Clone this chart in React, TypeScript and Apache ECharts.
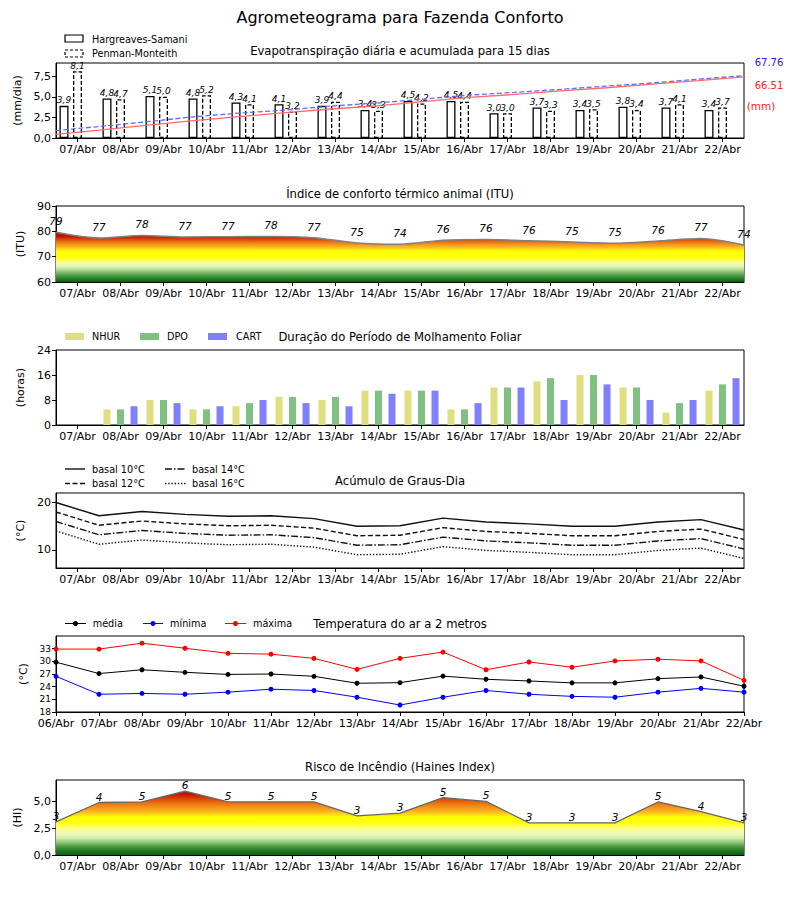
import React, { useEffect, useRef } from "react";
import * as echarts from "echarts";

// ---------- DATA ----------
const diasEixo = ["07/Abr","08/Abr","09/Abr","10/Abr","11/Abr","12/Abr","13/Abr","14/Abr","15/Abr","16/Abr","17/Abr","18/Abr","19/Abr","20/Abr","21/Abr","22/Abr"];
const diasTemp = ["06/Abr","07/Abr","08/Abr","09/Abr","10/Abr","11/Abr","12/Abr","13/Abr","14/Abr","15/Abr","16/Abr","17/Abr","18/Abr","19/Abr","20/Abr","21/Abr","22/Abr"];

const etHargreaves = [3.9,4.8,5.1,4.8,4.3,4.1,3.9,3.4,4.5,4.5,3.0,3.7,3.4,3.8,3.7,3.4];
const etPenman = [8.1,4.7,5.0,5.2,4.1,3.2,4.4,3.3,4.2,4.4,3.0,3.3,3.5,3.4,4.1,3.7];
const etHargreavesAcum = [3.9,8.8,14.0,18.9,23.3,27.5,31.5,35.0,39.6,44.2,47.3,51.1,54.6,58.5,62.3,66.51];
const etPenmanAcum = [8.1,12.8,17.8,23.0,27.1,30.3,34.7,38.0,42.2,46.6,49.6,52.9,56.4,59.8,63.9,67.76];
const totalHargreaves = "66.51";
const totalPenman = "67.76";

const itu = [79.6,77.4,78.4,77.8,77.9,78.0,77.5,75.4,74.9,76.5,76.8,76.3,75.8,75.3,76.2,77.2,74.6];
const ituRotulos = [79,77,78,77,77,78,77,75,74,76,76,76,75,75,76,77,74];

const nhur = [0,5,8,5,6,9,8,11,11,5,12,14,16,12,4,11];
const dpo = [0,5,8,5,7,9,9,11,11,5,12,15,16,12,7,13];
const cart = [0,6,7,6,8,7,6,10,11,7,12,8,13,8,8,15];

const gd10 = [20.0,17.2,18.1,17.5,17.1,17.2,16.6,15.0,15.1,16.7,15.9,15.5,15.0,15.0,15.9,16.4,14.2];
const gd12 = [18.0,15.2,16.1,15.5,15.1,15.2,14.6,13.0,13.1,14.7,13.9,13.5,13.0,13.0,13.9,14.4,12.2];
const gd14 = [16.0,13.2,14.1,13.5,13.1,13.2,12.6,11.0,11.1,12.7,11.9,11.5,11.0,11.0,11.9,12.4,10.2];
const gd16 = [14.0,11.2,12.1,11.5,11.1,11.2,10.6,9.0,9.1,10.7,9.9,9.5,9.0,9.0,9.9,10.4,8.2];

const tMedia = [29.8,27.1,28.0,27.4,26.9,27.0,26.45,24.8,24.95,26.5,25.75,25.35,24.9,24.9,25.9,26.3,24.1];
const tMinima = [26.45,22.2,22.4,22.2,22.7,23.4,23.1,21.5,19.65,21.5,23.1,22.2,21.7,21.5,22.7,23.6,22.7];
const tMaxima = [32.9,32.9,34.3,33.1,31.9,31.7,30.7,28.1,30.7,32.2,28.0,29.85,28.6,30.1,30.5,30.1,25.5];

const haines = [3.1,4.9,4.95,5.95,4.95,4.95,4.95,3.65,3.9,5.35,5.0,3.0,3.0,3.0,4.95,4.05,3.0];
const hainesRotulos = [3,4,5,6,5,5,5,3,3,5,5,3,3,3,5,4,3];

// ---------- STYLE CONSTANTS ----------
const FONT = "DejaVu Sans";
const L = 56;
const R = 56;
const grids = [
  { top: 63, height: 75 },
  { top: 206, height: 76 },
  { top: 350, height: 75 },
  { top: 493, height: 75 },
  { top: 636, height: 76 },
  { top: 780, height: 75 },
];

const ituStops: [number, string][] = [
  [60, "#0d5e0d"], [61, "#1f7a1f"], [62.5, "#4a9a45"], [64, "#8cc474"], [65.3, "#c4e8a4"],
  [66.5, "#e8f8b8"], [67.5, "#f6fca0"], [68.7, "#ffff50"], [69.5, "#ffff10"], [72.2, "#ffff00"],
  [73, "#ffd818"], [74, "#fbb020"], [75, "#f39018"], [76, "#e86c10"], [77, "#d84008"],
  [78, "#c41000"], [90, "#c00000"],
];
const hainesStops: [number, string][] = [
  [0, "#0d5e0d"], [0.4, "#1f7a1f"], [0.8, "#4a9a45"], [1.15, "#8cc474"], [1.5, "#c4e8a4"],
  [1.9, "#e8f8b8"], [2.3, "#f6fca0"], [2.7, "#ffff50"], [3.0, "#ffff10"], [3.5, "#ffff00"],
  [3.8, "#ffd818"], [4.1, "#fbb020"], [4.5, "#f39018"], [4.9, "#e86c10"], [5.3, "#d84008"],
  [5.7, "#c41000"], [7, "#c00000"],
];

function grad(gi: number, vmin: number, vmax: number, stops: [number, string][]) {
  const g = grids[gi];
  const yb = g.top + g.height;
  const yt = g.top;
  return new echarts.graphic.LinearGradient(
    0, yb, 0, yt,
    stops.map(([v, c]) => ({ offset: (v - vmin) / (vmax - vmin), color: c })),
    true
  );
}

const comma1 = (v: number) => v.toFixed(1).replace(".", ",");

function catAxis(gi: number) {
  return {
    type: "category",
    gridIndex: gi,
    position: "bottom",
    data: diasEixo,
    boundaryGap: true,
    axisLine: { show: true, lineStyle: { color: "#000", width: 1 } },
    axisTick: { show: true, alignWithLabel: true, length: 4, lineStyle: { color: "#000" } },
    axisLabel: { color: "#000", fontSize: 11, fontFamily: FONT, margin: 6, interval: 0 },
    splitLine: { show: false },
  };
}
function hiddenX(gi: number, max: number) {
  return { type: "value", gridIndex: gi, min: 0, max, show: false, position: "top" };
}
function yAx(gi: number, min: number, max: number, name: string, gap: number, extra: any = {}) {
  return {
    type: "value",
    gridIndex: gi,
    min,
    max,
    name,
    nameLocation: "middle",
    nameGap: gap,
    nameTextStyle: { color: "#000", fontSize: 11, fontFamily: FONT },
    axisLine: { show: true, lineStyle: { color: "#000" } },
    axisTick: { show: true, length: 4, lineStyle: { color: "#000" }, ...(extra.tick || {}) },
    axisLabel: { color: "#000", fontSize: 11, fontFamily: FONT, margin: 5, ...(extra.label || {}) },
    splitLine: { show: false },
    ...(extra.axis || {}),
  };
}

function txt(text: string, x: number, y: number, size: number, opts: any = {}) {
  return {
    type: "text",
    x,
    y,
    silent: true,
    style: {
      text,
      fill: opts.fill || "#000",
      fontSize: size,
      fontFamily: FONT,
      align: opts.align || "left",
      verticalAlign: "middle",
    },
  };
}
function hline(x1: number, x2: number, y: number, color: string, dash?: number[], w = 1.3) {
  return {
    type: "line",
    silent: true,
    shape: { x1, y1: y, x2, y2: y },
    style: { stroke: color, lineWidth: w, lineDash: dash || null },
  };
}

export default function App() {
  const ref = useRef<HTMLDivElement>(null);
  useEffect(() => {
    if (!ref.current) return;
    const chart = echarts.init(ref.current, undefined, { renderer: "svg" });

    const lineLabel = (arr: number[], dist: number) => ({
      show: true,
      position: "top",
      distance: dist,
      fontSize: 10.5,
      fontStyle: "italic",
      fontFamily: FONT,
      color: "#000",
      formatter: (p: any) => String(arr[p.dataIndex]),
    });

    const barLabel = {
      show: true,
      position: "top",
      distance: 1,
      fontSize: 9,
      fontStyle: "italic",
      fontFamily: FONT,
      color: "#000",
      formatter: (p: any) => comma1(p.value),
    };

    const option: any = {
      animation: false,
      backgroundColor: "#fff",
      textStyle: { fontFamily: FONT },
      grid: grids.map((g) => ({
        left: L, right: R, top: g.top, height: g.height,
        show: true, borderColor: "#000", borderWidth: 1, backgroundColor: "transparent",
      })),
      xAxis: [
        catAxis(0), hiddenX(0, 15),
        catAxis(1), hiddenX(1, 16),
        catAxis(2),
        catAxis(3), hiddenX(3, 16),
        {
          type: "value", gridIndex: 4, min: 0, max: 16, interval: 1, position: "bottom",
          axisLine: { show: true, lineStyle: { color: "#000" } },
          axisTick: { show: true, length: 4, lineStyle: { color: "#000" } },
          axisLabel: {
            color: "#000", fontSize: 11, fontFamily: FONT, margin: 6,
            formatter: (v: number) => diasTemp[Math.round(v)] || "",
          },
          splitLine: { show: false },
        },
        catAxis(5), hiddenX(5, 16),
      ],
      yAxis: [
        yAx(0, 0, 9.1, "(mm/dia)", 31, {
          tick: { customValues: [0, 2.5, 5, 7.5] },
          label: { customValues: [0, 2.5, 5, 7.5], formatter: (v: number) => comma1(v) },
        }),
        { type: "value", gridIndex: 0, min: 0, max: 81.5, show: false },
        yAx(1, 60, 90, "(ITU)", 27, { axis: { interval: 10 } }),
        yAx(2, 0, 24, "(horas)", 27, { axis: { interval: 8 } }),
        yAx(3, 6.2, 22, "(°C)", 28, {
          tick: { customValues: [10, 20] },
          label: { customValues: [10, 20] },
        }),
        yAx(4, 18, 36, "(°C)", 25, {
          tick: { customValues: [18, 21, 24, 27, 30, 33] },
          label: { customValues: [18, 21, 24, 27, 30, 33], fontSize: 9 },
        }),
        yAx(5, 0, 7, "(HI)", 33, {
          tick: { customValues: [0, 2.5, 5] },
          label: { customValues: [0, 2.5, 5], formatter: (v: number) => comma1(v) },
        }),
      ],
      series: [
        // Panel 1: ET bars
        {
          type: "bar", name: "Hargreaves-Samani", xAxisIndex: 0, yAxisIndex: 0,
          data: etHargreaves, barWidth: 9, barGap: "50%",
          itemStyle: { color: "#fff", borderColor: "#000", borderWidth: 1.3 },
          label: barLabel, z: 2,
        },
        {
          type: "bar", name: "Penman-Monteith", xAxisIndex: 0, yAxisIndex: 0,
          data: etPenman, barWidth: 9, barGap: "50%",
          itemStyle: { color: "#fff", borderColor: "#000", borderWidth: 1.3, borderType: [4, 2] },
          label: barLabel, z: 2,
        },
        {
          type: "bar", name: "spacer", xAxisIndex: 0, yAxisIndex: 0,
          data: etPenman.map(() => 0), barWidth: 9, barGap: "50%",
          itemStyle: { color: "transparent", borderWidth: 0 }, silent: true,
        },
        {
          type: "line", xAxisIndex: 1, yAxisIndex: 1,
          data: etHargreavesAcum.map((v, i) => [i, v]),
          symbol: "none", lineStyle: { color: "#ff6a6a", width: 1.3 }, z: 5,
        },
        {
          type: "line", xAxisIndex: 1, yAxisIndex: 1,
          data: etPenmanAcum.map((v, i) => [i, v]),
          symbol: "none", lineStyle: { color: "#6a6aff", width: 1.3, type: [5, 2.5] }, z: 5,
        },
        // Panel 2: ITU
        {
          type: "line", xAxisIndex: 3, yAxisIndex: 2,
          data: itu.map((v, i) => [i, v]),
          smooth: 0.3,
          symbol: "circle", symbolSize: 1, showSymbol: true,
          itemStyle: { color: "transparent", borderWidth: 0 },
          lineStyle: { color: "#808080", width: 1.5 },
          areaStyle: { color: grad(1, 60, 90, ituStops), opacity: 1, origin: "start" },
          label: lineLabel(ituRotulos, 5),
        },
        // Panel 3: Molhamento
        {
          type: "bar", name: "NHUR", xAxisIndex: 4, yAxisIndex: 3, data: nhur,
          barWidth: 7, barGap: "93%", itemStyle: { color: "#dfdf80" },
        },
        {
          type: "bar", name: "DPO", xAxisIndex: 4, yAxisIndex: 3, data: dpo,
          barWidth: 7, barGap: "93%", itemStyle: { color: "#80c080" },
        },
        {
          type: "bar", name: "CART", xAxisIndex: 4, yAxisIndex: 3, data: cart,
          barWidth: 7, barGap: "93%", itemStyle: { color: "#8080ff" },
        },
        // Panel 4: Graus-dia
        {
          type: "line", xAxisIndex: 6, yAxisIndex: 4, data: gd10.map((v, i) => [i, v]),
          symbol: "none", lineStyle: { color: "#111", width: 1.4 },
        },
        {
          type: "line", xAxisIndex: 6, yAxisIndex: 4, data: gd12.map((v, i) => [i, v]),
          symbol: "none", lineStyle: { color: "#111", width: 1.4, type: [5, 2.5] },
        },
        {
          type: "line", xAxisIndex: 6, yAxisIndex: 4, data: gd14.map((v, i) => [i, v]),
          symbol: "none", lineStyle: { color: "#111", width: 1.4, type: [7, 2, 1.5, 2] },
        },
        {
          type: "line", xAxisIndex: 6, yAxisIndex: 4, data: gd16.map((v, i) => [i, v]),
          symbol: "none", lineStyle: { color: "#111", width: 1.4, type: [1.4, 1.8] },
        },
        // Panel 5: Temperatura
        {
          type: "line", xAxisIndex: 7, yAxisIndex: 5, data: tMaxima.map((v, i) => [i, v]),
          symbol: "circle", symbolSize: 5, itemStyle: { color: "#ff0000" },
          lineStyle: { color: "#ff0000", width: 1 },
        },
        {
          type: "line", xAxisIndex: 7, yAxisIndex: 5, data: tMedia.map((v, i) => [i, v]),
          symbol: "circle", symbolSize: 5, itemStyle: { color: "#000" },
          lineStyle: { color: "#000", width: 1 },
        },
        {
          type: "line", xAxisIndex: 7, yAxisIndex: 5, data: tMinima.map((v, i) => [i, v]),
          symbol: "circle", symbolSize: 5, itemStyle: { color: "#0000ff" },
          lineStyle: { color: "#0000ff", width: 1 },
        },
        // Panel 6: Haines
        {
          type: "line", xAxisIndex: 9, yAxisIndex: 6,
          data: haines.map((v, i) => [i, v]),
          symbol: "circle", symbolSize: 1, showSymbol: true,
          itemStyle: { color: "transparent", borderWidth: 0 },
          lineStyle: { color: "#666", width: 1.3 },
          areaStyle: { color: grad(5, 0, 7, hainesStops), opacity: 1, origin: "start" },
          label: lineLabel(hainesRotulos, 0),
        },
      ],
      graphic: [
        txt("Agrometeograma para Fazenda Conforto", 400, 17, 16, { align: "center" }),
        txt("Evapotranspiração diária e acumulada para 15 dias", 400, 51, 11.6, { align: "center" }),
        txt("Índice de conforto térmico animal (ITU)", 400, 194, 11.6, { align: "center" }),
        txt("Duração do Período de Molhamento Foliar", 400, 337, 11.6, { align: "center" }),
        txt("Acúmulo de Graus-Dia", 400, 481, 11.6, { align: "center" }),
        txt("Temperatura do ar a 2 metros", 400, 624, 11.6, { align: "center" }),
        txt("Risco de Incêndio (Haines Index)", 400, 767, 11.6, { align: "center" }),
        // panel 1 legend
        { type: "rect", silent: true, shape: { x: 65, y: 35, width: 18, height: 7 }, style: { fill: "#fff", stroke: "#000", lineWidth: 1.2 } },
        txt("Hargreaves-Samani", 92, 39, 9.7),
        { type: "rect", silent: true, shape: { x: 65, y: 50, width: 18, height: 7 }, style: { fill: "#fff", stroke: "#000", lineWidth: 1.2, lineDash: [3, 2] } },
        txt("Penman-Monteith", 92, 53.5, 9.7),
        // panel 1 right side totals
        txt(totalPenman, 769, 62, 10, { align: "center", fill: "#2020ff" }),
        txt(totalHargreaves, 769, 85, 10, { align: "center", fill: "#ff2020" }),
        txt("(mm)", 761, 105.5, 10.5, { align: "center", fill: "#ff2020" }),
        // panel 3 legend
        { type: "rect", silent: true, shape: { x: 65, y: 333, width: 19, height: 7 }, style: { fill: "#dfdf80" } },
        txt("NHUR", 92, 336.5, 9.7),
        { type: "rect", silent: true, shape: { x: 140, y: 333, width: 19, height: 7 }, style: { fill: "#80c080" } },
        txt("DPO", 167, 336.5, 9.7),
        { type: "rect", silent: true, shape: { x: 208, y: 333, width: 19, height: 7 }, style: { fill: "#8080ff" } },
        txt("CART", 236, 336.5, 9.7),
        // panel 4 legend
        hline(65, 85, 469, "#111", undefined, 1.4),
        txt("basal 10°C", 92, 469, 9.7),
        hline(65, 85, 483.5, "#111", [5, 2.5], 1.4),
        txt("basal 12°C", 92, 483.5, 9.7),
        hline(165, 186, 469, "#111", [7, 2, 1.5, 2], 1.4),
        txt("basal 14°C", 192, 469, 9.7),
        hline(165, 186, 483.5, "#111", [1.4, 1.8], 1.4),
        txt("basal 16°C", 192, 483.5, 9.7),
        // panel 5 legend
        hline(65, 86, 623.5, "#000", undefined, 1),
        { type: "circle", silent: true, shape: { cx: 75.5, cy: 623.5, r: 2.5 }, style: { fill: "#000" } },
        txt("média", 92.7, 623.5, 9.7),
        hline(143, 163, 623.5, "#0000ff", undefined, 1),
        { type: "circle", silent: true, shape: { cx: 153, cy: 623.5, r: 2.5 }, style: { fill: "#0000ff" } },
        txt("mínima", 170, 623.5, 9.7),
        hline(225, 246, 623.5, "#ff0000", undefined, 1),
        { type: "circle", silent: true, shape: { cx: 235.5, cy: 623.5, r: 2.5 }, style: { fill: "#ff0000" } },
        txt("máxima", 253, 623.5, 9.7),
      ],
    };

    chart.setOption(option);
    return () => chart.dispose();
  }, []);

  return (
    <div
      ref={ref}
      style={{ position: "absolute", left: 0, top: 0, width: 800, height: 900, background: "#fff" }}
    />
  );
}
